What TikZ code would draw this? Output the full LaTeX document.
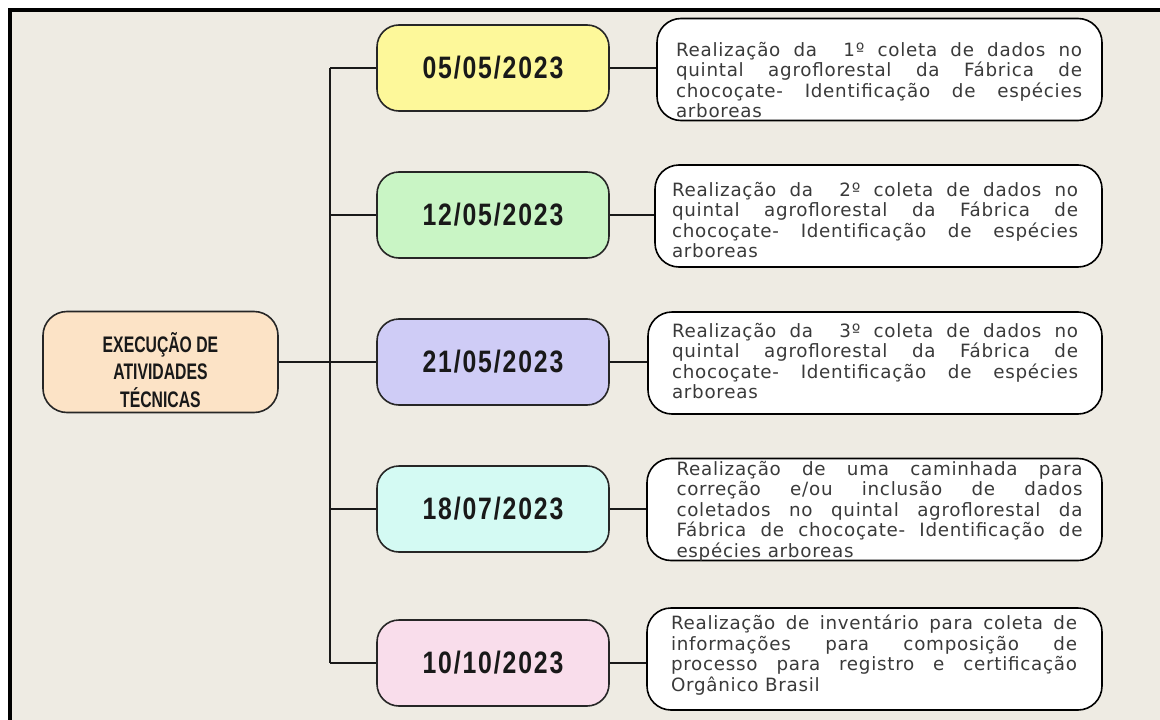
\documentclass[tikz,border=0pt]{standalone}
\usepackage{fontspec}
\setmainfont{DejaVu Sans}
\newfontfamily\bodyfont[LetterSpace=4]{DejaVu Sans}
\newfontfamily\datefont[FakeStretch=0.8,LetterSpace=6]{Liberation Sans Bold}
\newfontfamily\headfont[FakeStretch=0.7]{Liberation Sans Bold}
\newcommand{\justline}[1]{\makebox[406pt][s]{#1}}

\definecolor{paper}{HTML}{EEEBE3}
\definecolor{peach}{HTML}{FCE3C6}
\definecolor{cyellow}{HTML}{FDF89A}
\definecolor{cgreen}{HTML}{C9F5C5}
\definecolor{clilac}{HTML}{CFCCF6}
\definecolor{ccyan}{HTML}{D4FAF3}
\definecolor{cpink}{HTML}{F9DDEB}
\definecolor{inktext}{HTML}{3A3A3A}

\begin{document}
\begin{tikzpicture}[x=1pt,y=-1pt,
  mainbox/.style={draw=black!85, line width=1.6pt, fill=peach, rounded corners=24pt,
    minimum width=235pt, minimum height=101pt, text=black!90,
    font=\headfont\fontsize{22.5}{27}\selectfont},
  datebox/.style={draw=black!85, line width=1.6pt, rounded corners=22pt,
    minimum width=232pt, minimum height=86pt, text=black!90,
    font=\datefont\fontsize{31}{31}\selectfont},
  infobox/.style={draw=black, line width=1.6pt, fill=white, rounded corners=24pt,
    minimum width=446pt, minimum height=102pt},
  info/.style={font=\bodyfont\fontsize{18.3}{20.5}\selectfont, text=inktext,
    align=left, inner sep=0pt},
  link/.style={draw=black!90, line width=2pt}]

\useasboundingbox (0,0) rectangle (1160,720);

% sheet and frame
\fill[white] (0,0) rectangle (1160,720);
\fill[paper] (10,10) rectangle (1160,720);
\draw[black, line width=4pt] (10,720) -- (10,10) -- (1160,10);

% root
\node[mainbox] (exec) at (160.5,362)
  {\raisebox{-17pt}[0pt][0pt]{\begin{tabular}{@{}c@{}}EXECUÇÃO DE\\ATIVIDADES\\TÉCNICAS\end{tabular}}};

% dates
\node[datebox, fill=cyellow] (d1) at (493,68)  {05/05/2023};
\node[datebox, fill=cgreen]  (d2) at (493,215) {12/05/2023};
\node[datebox, fill=clilac]  (d3) at (493,362) {21/05/2023};
\node[datebox, fill=ccyan]   (d4) at (493,509) {18/07/2023};
\node[datebox, fill=cpink]   (d5) at (493,663) {10/10/2023};

% description boxes
\node[infobox, minimum width=445pt] (r1) at (879.5,69.5) {};
\node[infobox, minimum width=447pt] (r2) at (878.5,216) {};
\node[infobox, minimum width=454pt] (r3) at (875,363) {};
\node[infobox, minimum width=455pt] (r4) at (874.5,509.5) {};
\node[infobox, minimum width=455pt] (r5) at (874.5,659) {};

\node[info] (t1) at (879,80) {\justline{Realização da~ 1º coleta de dados no}\\
  \justline{quintal agroflorestal da Fábrica de}\\
  \justline{chocoçate- Identificação de espécies}\\
  arboreas};
\node[info] (t2) at (875,220) {\justline{Realização da~ 2º coleta de dados no}\\
  \justline{quintal agroflorestal da Fábrica de}\\
  \justline{chocoçate- Identificação de espécies}\\
  arboreas};
\node[info] (t3) at (875,361) {\justline{Realização da~ 3º coleta de dados no}\\
  \justline{quintal agroflorestal da Fábrica de}\\
  \justline{chocoçate- Identificação de espécies}\\
  arboreas};
\node[info] (t4) at (879.5,511) {\justline{Realização de uma caminhada para}\\
  \justline{correção e/ou inclusão de dados}\\
  \justline{coletados no quintal agroflorestal da}\\
  \justline{Fábrica de chocoçate- Identificação de}\\
  espécies arboreas};
\node[info] (t5) at (874,655) {\justline{Realização de inventário para coleta de}\\
  \justline{informações para composição de}\\
  \justline{processo para registro e certificação}\\
  Orgânico Brasil};

% tree connectors
\coordinate (trunk) at (330,0);
\draw[link] (exec.east) -- (exec.east -| trunk);
\draw[link] (d1.west -| trunk) -- (d5.west -| trunk);
\foreach \d in {d1,d2,d3,d4,d5}{
  \draw[link] (\d.west -| trunk) -- (\d.west);
}
\foreach \d/\r in {d1/r1,d2/r2,d3/r3,d4/r4,d5/r5}{
  \draw[link] (\d.east) -- (\d.east -| \r.west);
}
\end{tikzpicture}
\end{document}
